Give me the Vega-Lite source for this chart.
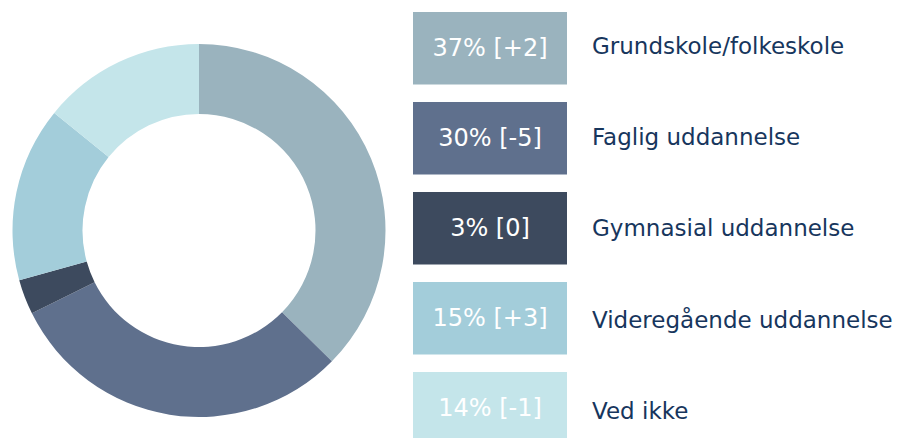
{
  "$schema": "https://vega.github.io/schema/vega-lite/v6.json",
  "padding": 0,
  "background": "white",
  "config": {"view": {"stroke": null}, "font": "DejaVu Sans"},
  "data": {
    "values": [
      {"rank": 1, "category": "Grundskole/folkeskole", "share": 37, "change": "+2"},
      {"rank": 2, "category": "Faglig uddannelse", "share": 30, "change": "-5"},
      {"rank": 3, "category": "Gymnasial uddannelse", "share": 3, "change": "0"},
      {"rank": 4, "category": "Videregående uddannelse", "share": 15, "change": "+3"},
      {"rank": 5, "category": "Ved ikke", "share": 14, "change": "-1"}
    ]
  },
  "transform": [
    {"calculate": "datum.share + '% [' + datum.change + ']'", "as": "badge"}
  ],
  "spacing": 15,
  "hconcat": [
    {
      "width": 398,
      "height": 461,
      "mark": {"type": "arc", "innerRadius": 116.5, "outerRadius": 186.5},
      "encoding": {
        "theta": {"field": "share", "type": "quantitative", "stack": true},
        "order": {"field": "rank", "type": "quantitative"},
        "color": {
          "field": "category",
          "type": "nominal",
          "legend": null,
          "scale": {
            "domain": ["Grundskole/folkeskole", "Faglig uddannelse", "Gymnasial uddannelse", "Videregående uddannelse", "Ved ikke"],
            "range": ["#9AB3BE", "#5F708D", "#3D4A5E", "#A3CDDA", "#C4E5EA"]
          }
        }
      }
    },
    {
      "spacing": 25,
      "hconcat": [
        {
          "width": 154,
          "height": 456.5,
          "encoding": {
            "y": {
              "field": "category",
              "type": "nominal",
              "sort": {"field": "rank", "op": "min"},
              "scale": {"paddingInner": 0.1944, "paddingOuter": 0.1333},
              "axis": null
            }
          },
          "layer": [
            {
              "mark": {"type": "rect"},
              "encoding": {
                "color": {
                  "field": "category",
                  "type": "nominal",
                  "legend": null,
                  "scale": {
                    "domain": ["Grundskole/folkeskole", "Faglig uddannelse", "Gymnasial uddannelse", "Videregående uddannelse", "Ved ikke"],
                    "range": ["#9AB3BE", "#5F708D", "#3D4A5E", "#A3CDDA", "#C4E5EA"]
                  }
                }
              }
            },
            {
              "mark": {"type": "text", "color": "white", "fontSize": 24, "dy": 1},
              "encoding": {"text": {"field": "badge"}}
            }
          ]
        },
        {
          "width": 306,
          "height": 456.5,
          "mark": {"type": "text", "align": "left", "color": "#17365D", "fontSize": 23, "dy": 1},
          "encoding": {
            "x": {"value": 0},
            "y": {
              "field": "category",
              "type": "nominal",
              "sort": {"field": "rank", "op": "min"},
              "scale": {"paddingInner": 0.1944, "paddingOuter": 0.1333},
              "axis": null
            },
            "text": {"field": "category"}
          }
        }
      ]
    }
  ]
}
